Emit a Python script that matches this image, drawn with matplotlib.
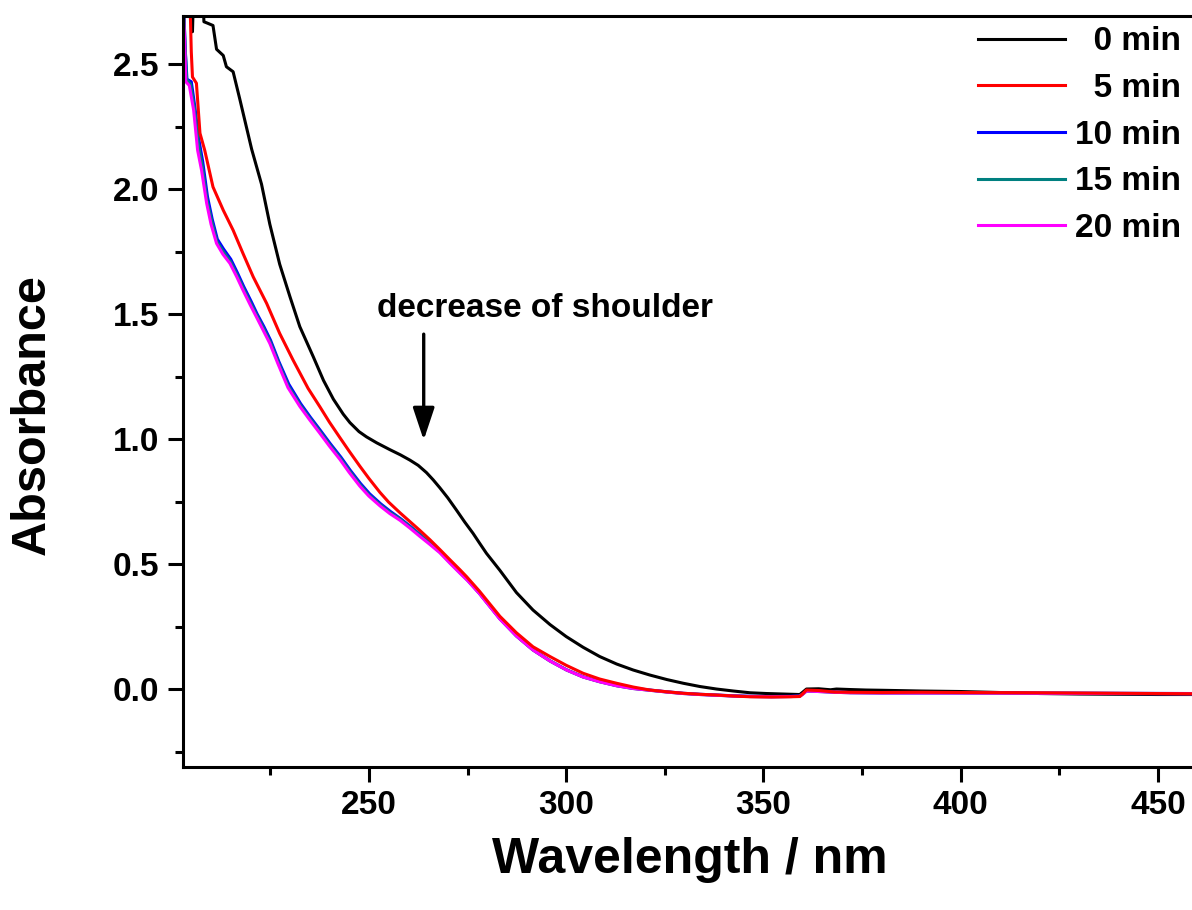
import matplotlib
matplotlib.use("Agg")
import matplotlib.pyplot as plt
from matplotlib.ticker import MultipleLocator

plt.rcParams['font.family'] = ['Liberation Sans', 'DejaVu Sans']
plt.rcParams['font.weight'] = 'bold'

# ---------------- data ----------------
wl_0 = [205.0, 205.3, 205.6, 207.9, 208.2, 209.0, 210.5, 211.4, 213.1, 213.9, 215.6, 217.3,
        220.3, 222.8, 224.9, 227.4, 230.0, 232.5, 235.9, 238.5, 241.0, 243.5, 245.2, 247.5,
        249.4, 252.0, 255.3, 258.0, 260.4, 262.5, 264.6, 266.3, 268.0, 270.0, 272.2, 274.3,
        276.4, 278.0, 279.8, 283.2, 287.4, 291.6, 295.9, 300.0, 304.3, 308.5, 312.8, 317.0,
        321.2, 325.5, 329.7, 333.9, 338.1, 342.4, 346.6, 350.8, 355.0, 359.2, 360.0, 360.9,
        364.0, 367.0, 368.5, 371.9, 376.0, 380.0, 390.0, 400.0, 410.0, 420.0, 430.0, 440.0,
        450.0, 458.6]
abs_0 = [2.80, 2.63, 2.80, 2.80, 2.67, 2.665, 2.655, 2.56, 2.535, 2.49, 2.47, 2.36,
         2.16, 2.02, 1.86, 1.70, 1.57, 1.45, 1.33, 1.235, 1.160, 1.10, 1.066, 1.030,
         1.009, 0.985, 0.958, 0.937, 0.916, 0.895, 0.866, 0.837, 0.805, 0.765, 0.716, 0.668,
         0.623, 0.585, 0.543, 0.475, 0.386, 0.316, 0.258, 0.210, 0.167, 0.130, 0.100, 0.076,
         0.056, 0.038, 0.023, 0.010, 0.000, -0.008, -0.015, -0.018, -0.020, -0.022, -0.012, 0.000,
         0.001, -0.003, 0.000, -0.002, -0.004, -0.005, -0.008, -0.010, -0.014, -0.018, -0.020, -0.021,
         -0.022, -0.022]

wl_5 = [203.5, 204.5, 204.8, 205.0, 205.3, 206.3, 207.2, 208.4, 210.5, 213.1, 215.6, 218.1,
        220.7, 224.1, 227.4, 230.8, 234.6, 237.6, 240.0, 242.7, 245.0, 247.7, 250.0, 252.8,
        255.0, 257.9, 260.4, 262.9, 265.5, 268.0, 270.5, 273.1, 274.8, 278.0, 283.2, 287.4,
        291.6, 295.9, 300.0, 304.3, 308.5, 312.8, 317.0, 321.2, 325.5, 329.7, 333.9, 338.1,
        342.4, 346.6, 352.0, 357.0, 359.2, 360.0, 360.9, 364.0, 368.0, 371.9, 380.0, 390.0,
        400.0, 420.0, 440.0, 458.6]
abs_5 = [2.90, 2.78, 2.676, 2.55, 2.449, 2.424, 2.224, 2.156, 2.009, 1.916, 1.836, 1.743,
         1.649, 1.543, 1.423, 1.316, 1.203, 1.129, 1.068, 1.005, 0.952, 0.892, 0.843, 0.787,
         0.748, 0.705, 0.670, 0.635, 0.597, 0.558, 0.518, 0.477, 0.449, 0.392, 0.291, 0.225,
         0.169, 0.130, 0.095, 0.063, 0.040, 0.023, 0.008, -0.004, -0.011, -0.017, -0.021, -0.024,
         -0.028, -0.031, -0.032, -0.031, -0.030, -0.018, -0.004, -0.006, -0.012, -0.013, -0.014, -0.013,
         -0.014, -0.015, -0.017, -0.019]

wl_10 = [203.0, 203.5, 203.9, 205.0, 205.9, 206.9, 207.9, 209.1, 210.3, 211.6, 213.2, 215.0,
         216.7, 218.3, 220.2, 221.7, 223.4, 225.1, 227.2, 229.7, 232.7, 235.2, 237.8, 240.2,
         242.9, 245.2, 247.9, 250.2, 253.0, 255.5, 258.0, 260.5, 263.0, 265.5, 268.0, 270.5,
         273.1, 275.0, 278.0, 283.2, 287.4, 291.6, 295.9, 300.1, 304.3, 308.5, 312.8, 317.0,
         321.2, 325.5, 329.7, 333.9, 338.1, 342.4, 346.6, 352.0, 357.0, 359.2, 360.0, 360.9,
         364.0, 368.0, 372.0, 380.0, 400.0, 420.0, 440.0, 458.6]
abs_10 = [2.75, 2.55, 2.44, 2.43, 2.33, 2.20, 2.11, 1.97, 1.88, 1.80, 1.76, 1.72,
          1.665, 1.61, 1.55, 1.50, 1.45, 1.395, 1.31, 1.220, 1.142, 1.087, 1.033, 0.982,
          0.928, 0.877, 0.822, 0.781, 0.741, 0.710, 0.682, 0.651, 0.618, 0.584, 0.550, 0.509,
          0.467, 0.437, 0.384, 0.282, 0.213, 0.157, 0.113, 0.077, 0.049, 0.030, 0.014, 0.003,
          -0.004, -0.011, -0.017, -0.021, -0.024, -0.027, -0.029, -0.030, -0.029, -0.028, -0.019, -0.007,
          -0.009, -0.012, -0.014, -0.015, -0.015, -0.016, -0.017, -0.018]

wl_15 = [203.0, 203.4, 203.8, 204.8, 205.8, 206.8, 207.8, 209.0, 210.2, 211.5, 213.1, 214.9,
         216.6, 218.2, 220.1, 221.6, 223.3, 225.0, 227.1, 229.6, 232.6, 235.1, 237.7, 240.1,
         242.8, 245.1, 247.8, 250.1, 252.9, 255.4, 258.0, 260.5, 263.0, 265.5, 268.0, 270.5,
         273.1, 275.0, 278.0, 283.2, 287.4, 291.6, 295.9, 300.1, 304.3, 308.5, 312.8, 317.0,
         321.2, 325.5, 329.7, 333.9, 338.1, 342.4, 346.6, 352.0, 357.0, 359.2, 360.0, 360.9,
         364.0, 368.0, 372.0, 380.0, 400.0, 420.0, 440.0, 458.6]
abs_15 = [2.78, 2.58, 2.44, 2.42, 2.32, 2.18, 2.09, 1.955, 1.87, 1.79, 1.75, 1.71,
          1.657, 1.603, 1.542, 1.495, 1.443, 1.389, 1.305, 1.212, 1.136, 1.082, 1.028, 0.977,
          0.923, 0.872, 0.817, 0.776, 0.737, 0.706, 0.679, 0.648, 0.615, 0.582, 0.548, 0.507,
          0.466, 0.436, 0.383, 0.281, 0.212, 0.156, 0.112, 0.076, 0.048, 0.029, 0.013, 0.002,
          -0.005, -0.012, -0.018, -0.022, -0.025, -0.028, -0.030, -0.031, -0.030, -0.029, -0.020, -0.008,
          -0.010, -0.013, -0.015, -0.016, -0.016, -0.017, -0.018, -0.019]

wl_20 = [202.9, 203.3, 203.6, 204.5, 205.6, 206.6, 207.6, 208.9, 210.0, 211.4, 213.0, 214.8,
         216.5, 218.1, 220.0, 221.5, 223.2, 224.9, 227.0, 229.5, 232.5, 235.0, 237.6, 240.0,
         242.7, 245.0, 247.7, 250.0, 252.8, 255.3, 257.9, 260.4, 262.9, 265.5, 268.0, 270.5,
         273.1, 275.0, 278.0, 283.2, 287.4, 291.6, 295.9, 300.1, 304.3, 308.5, 312.8, 317.0,
         321.2, 325.5, 329.7, 333.9, 338.1, 342.4, 346.6, 352.0, 357.0, 359.2, 360.0, 360.9,
         364.0, 368.0, 372.0, 380.0, 400.0, 420.0, 440.0, 458.6]
abs_20 = [2.75, 2.60, 2.43, 2.415, 2.316, 2.156, 2.076, 1.943, 1.860, 1.783, 1.740, 1.703,
          1.650, 1.596, 1.535, 1.489, 1.436, 1.383, 1.300, 1.206, 1.131, 1.077, 1.023, 0.972,
          0.918, 0.867, 0.812, 0.772, 0.733, 0.702, 0.675, 0.644, 0.611, 0.578, 0.545, 0.504,
          0.463, 0.434, 0.382, 0.280, 0.212, 0.156, 0.112, 0.076, 0.048, 0.029, 0.013, 0.002,
          -0.005, -0.012, -0.018, -0.022, -0.025, -0.028, -0.030, -0.031, -0.030, -0.029, -0.020, -0.008,
          -0.010, -0.013, -0.015, -0.016, -0.016, -0.017, -0.018, -0.019]

labels = ['  0 min', '  5 min', '10 min', '15 min', '20 min']
colors = ['#000000', '#ff0000', '#0000ff', '#008080', '#ff00ff']

x_ticks = [250, 300, 350, 400, 450]
y_ticks = [0.0, 0.5, 1.0, 1.5, 2.0, 2.5]
y_tick_labels = ['0.0', '0.5', '1.0', '1.5', '2.0', '2.5']

# ---------------- figure ----------------
fig = plt.figure(figsize=(11.92, 9.10), dpi=100)
ax = fig.add_axes([183 / 1192, 1 - 766.5 / 910, 1 - 183 / 1192, (766.5 - 15.5) / 910])

lw = 2.2
l0, = ax.plot(wl_0, abs_0, color=colors[0], lw=lw)
l10, = ax.plot(wl_10, abs_10, color=colors[2], lw=lw)
l15, = ax.plot(wl_15, abs_15, color=colors[3], lw=lw)
l20, = ax.plot(wl_20, abs_20, color=colors[4], lw=lw)
l5, = ax.plot(wl_5, abs_5, color=colors[1], lw=lw)

ax.set_xlim(202.9, 458.6)
ax.set_ylim(-0.31, 2.695)

ax.set_xticks(x_ticks)
ax.set_yticks(y_ticks)
ax.set_yticklabels(y_tick_labels)
ax.xaxis.set_minor_locator(MultipleLocator(25))
ax.yaxis.set_minor_locator(MultipleLocator(0.25))

for s in ['left', 'bottom', 'top']:
    ax.spines[s].set_linewidth(2.2)
ax.spines['right'].set_visible(False)

ax.tick_params(which='major', direction='out', length=11, width=2.2,
               labelsize=24, pad=6, top=False, right=False)
ax.tick_params(which='minor', direction='out', length=5.5, width=2.2,
               top=False, right=False)
for t in ax.get_xticklabels() + ax.get_yticklabels():
    t.set_fontweight('bold')

fig.text(32 / 1192, 1 - 415 / 910, 'Absorbance', rotation=90, ha='center', va='center',
         fontsize=35, fontweight='bold')
fig.text(690 / 1192, 1 - 860 / 910, 'Wavelength / nm', ha='center', va='center',
         fontsize=36, fontweight='bold')

ax.annotate('', xy=(263.9, 0.996), xytext=(263.9, 1.42),
            arrowprops=dict(arrowstyle='-|>,head_length=0.9,head_width=0.3',
                            color='black', lw=2.4, mutation_scale=22,
                            shrinkA=0, shrinkB=0))
ax.text(294.6, 1.524, 'decrease of shoulder', ha='center', va='center',
        fontsize=24, fontweight='bold')

leg = ax.legend([l0, l5, l10, l15, l20], labels, loc='upper right',
                bbox_to_anchor=(1.0, 1.0), frameon=False,
                prop={'size': 24, 'weight': 'bold'}, handlelength=2.6,
                handletextpad=0.3, labelspacing=0.47, borderaxespad=0.0,
                borderpad=0.33)

fig.savefig('out.png', dpi=100)
